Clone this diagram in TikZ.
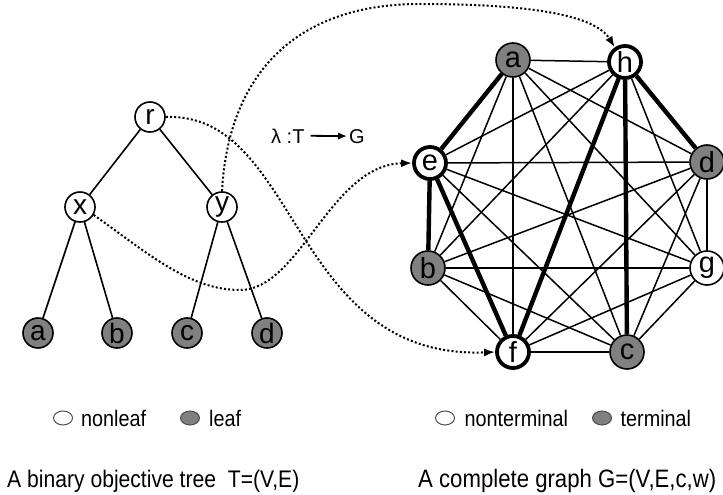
\documentclass[tikz,border=0pt]{standalone}
\usepackage{fontspec}
\setmainfont{Liberation Sans}[FakeStretch=0.88]
\newfontfamily\plainsans{Liberation Sans}
\usetikzlibrary{arrows.meta,shapes.geometric,positioning}
\definecolor{vgray}{RGB}{128,128,128}
\begin{document}
\begin{tikzpicture}[x=1pt,y=-1pt,
  tn/.style={draw,circle,line width=1.6pt,minimum size=30pt,inner sep=0pt,font=\plainsans\fontsize{28}{28}\selectfont},
  tleaf/.style={tn,fill=vgray},
  gn/.style={draw,circle,line width=1.6pt,minimum size=34pt,inner sep=0pt,font=\plainsans\fontsize{29}{29}\selectfont},
  gterm/.style={gn,fill=vgray},
  gbold/.style={gn,line width=3.8pt,minimum size=32pt},
  tedge/.style={line width=1.6pt},
  gedge/.style={line width=1.5pt},
  gthick/.style={line width=4.4pt},
  lmap/.style={line width=2pt,dash pattern=on 2pt off 2.2pt,-{Latex[length=11pt,width=8pt]}},
  lgw/.style={draw=black!70,ellipse,minimum width=19pt,minimum height=14pt,inner sep=0pt,line width=1pt,fill=white},
  lgg/.style={lgw,fill=vgray},
  lgt/.style={font=\fontsize{22.5}{24}\selectfont,inner sep=0pt},
  lamt/.style={font=\plainsans\fontsize{20}{21}\selectfont,inner sep=0pt,anchor=base west},
  captxt/.style={font=\fontsize{24}{26}\selectfont,inner sep=0pt,anchor=base west}]
  \useasboundingbox (0,0) rectangle (723,495);
  % tree
  \node[tn] (r) at (150,117){r};
  \node[tn] (x) at (80,207){x};
  \node[tn] (y) at (222,207){y};
  \node[tleaf] (ta) at (38,333){a};
  \node[tleaf] (tb) at (117,333){b};
  \node[tleaf] (tc) at (187,333){c};
  \node[tleaf] (td) at (267,333){d};
  \foreach \u/\v in {r/x,r/y,x/ta,x/tb,y/tc,y/td} \draw[tedge] (\u) -- (\v);
  % complete graph
  \node[gterm] (ga) at (513,60){a};
  \node[gbold] (gh) at (625,62){h};
  \node[gbold] (ge) at (430,163){e};
  \node[gterm] (gd) at (707,162){d};
  \node[gterm] (gb) at (428,268){b};
  \node[gn] (gg) at (707,268){g};
  \node[gbold] (gf) at (513,352){f};
  \node[gterm] (gc) at (627,352){c};
  \foreach \u [count=\i] in {a,h,d,g,c,f,b,e}{
    \foreach \v [count=\j] in {a,h,d,g,c,f,b,e}{
      \ifnum\j>\i \draw[gedge] (g\u) -- (g\v); \fi}}
  \foreach \u/\v in {a/e,b/e,e/f,h/f,h/c,h/d} \draw[gthick] (g\u) -- (g\v);
  % mapping
  \draw[lmap] (r.east) .. controls (300,112) and (290,360) .. (gf.west);
  \draw[lmap] (x.-30) .. controls (150,255) and (190,290) .. (240,290) .. controls (300,290) and (330,165) .. (ge.west);
  \draw[lmap] (y.north) .. controls (228,80) and (290,4) .. (420,4) .. controls (530,4) and (595,15) .. (gh.125);
  \node[lamt] (lamT) at (271,143){λ :T};
  \node[lamt] (lamG) at (349,143){G};
  \draw[line width=1.8pt,-{Latex[length=9pt,width=7.5pt]},shorten <=6pt,shorten >=2pt] (lamT.east) -- (lamG.west);
  % legends
  \node[lgw] (lw1) at (63,418){};
  \node[lgt,right=8pt of lw1] (nl){nonleaf};
  \node[lgg] (lg1) at (190,418){};
  \node[lgt,right=9pt of lg1] (lf){leaf};
  \node[lgw] (lw2) at (445,418){};
  \node[lgt,right=9.5pt of lw2] (nt){nonterminal};
  \node[lgg] (lg2) at (602,418){};
  \node[lgt,right=8.5pt of lg2] (tm){terminal};
  \node[captxt] (capT) at (7,487){A binary objective tree \ T=(V,E)};
  \node[captxt,font=\fontsize{25.2}{27}\selectfont] (capG) at (418,487){A complete graph G=(V,E,c,w)};
\end{tikzpicture}
\end{document}
